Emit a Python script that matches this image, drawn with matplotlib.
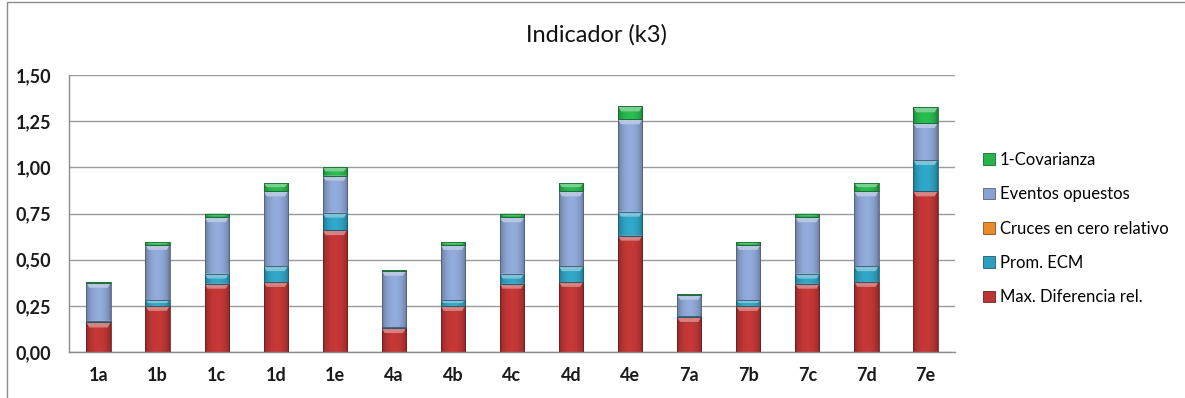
import numpy as np
import matplotlib
matplotlib.use("Agg")
import matplotlib.pyplot as plt
from matplotlib.patches import Rectangle, Polygon, Patch
from matplotlib.colors import to_rgb

plt.rcParams['font.family'] = ['Lato', 'DejaVu Sans']

categories = ["1a", "1b", "1c", "1d", "1e", "4a", "4b", "4c", "4d", "4e",
              "7a", "7b", "7c", "7d", "7e"]

max_dif_rel = [0.16, 0.25, 0.37, 0.38, 0.66, 0.13, 0.25, 0.37, 0.38, 0.63,
               0.19, 0.25, 0.37, 0.38, 0.87]
prom_ecm = [0.01, 0.03, 0.055, 0.085, 0.095, 0.005, 0.03, 0.055, 0.085, 0.13,
            0.005, 0.03, 0.055, 0.085, 0.17]
cruces_cero = [0.0] * 15
eventos_opuestos = [0.205, 0.30, 0.305, 0.405, 0.20, 0.305, 0.30, 0.305, 0.405, 0.50,
                    0.115, 0.30, 0.305, 0.405, 0.20]
covarianza = [0.005, 0.015, 0.02, 0.045, 0.045, 0.003, 0.015, 0.02, 0.045, 0.07,
              0.003, 0.015, 0.02, 0.045, 0.085]

series = [
    ("Max. Diferencia rel.", max_dif_rel, "#BB3534"),
    ("Prom. ECM", prom_ecm, "#2E9FBF"),
    ("Cruces en cero relativo", cruces_cero, "#E98A2C"),
    ("Eventos opuestos", eventos_opuestos, "#8AA2CF"),
    ("1-Covarianza", covarianza, "#27B24C"),
]

yticks = [0.0, 0.25, 0.5, 0.75, 1.0, 1.25, 1.5]
ytick_labels = ["0,00", "0,25", "0,50", "0,75", "1,00", "1,25", "1,50"]

W, H = 1185, 398
fig = plt.figure(figsize=(W / 100, H / 100), dpi=100)
fig.patch.set_facecolor("white")

# chart frame
fig.add_artist(Rectangle((7 / W, -0.01), 1.2, (H - 2) / H + 0.01, transform=fig.transFigure,
                         fill=False, edgecolor="#8C8C8C", linewidth=1.0))

ax = fig.add_axes([69 / W, 1 - 352 / H, (955 - 69) / W, (352 - 75) / H])
ax.set_xlim(-0.5, len(categories) - 0.5)
ax.set_ylim(0, 1.5)

ax.set_yticks(yticks)
ax.set_yticklabels(ytick_labels, fontsize=13, fontweight="bold", color="#1A1A1A")
ax.set_xticks(range(len(categories)))
ax.set_xticklabels(categories, fontsize=13, fontweight="bold", color="#1A1A1A")
ax.tick_params(length=0, pad=11)
ax.tick_params(axis="y", pad=13)

ax.grid(axis="y", color="#9A9A9A", linewidth=1.0)
ax.set_axisbelow(True)
for side in ("top", "right"):
    ax.spines[side].set_visible(False)
for side in ("left", "bottom"):
    ax.spines[side].set_color("#8C8C8C")
    ax.spines[side].set_linewidth(1.0)

bar_w = 0.41
x = np.arange(len(categories))
bottom = np.zeros(len(categories))

# horizontal shading profile: dark edges, brighter middle
u = np.linspace(-1, 1, 64)
profile = 0.68 + 0.38 * (1 - u ** 2) ** 0.6


def shaded(color):
    rgb = np.array(to_rgb(color))
    img = np.clip(rgb[None, :] * profile[:, None], 0, 1)
    return img[None, :, :]


top_px = 5.0 / 184.7  # height of the bevel highlight in data units
handles = []
for name, vals, color in series:
    vals = np.asarray(vals, dtype=float)
    img = shaded(color)
    light = np.clip(np.array(to_rgb(color)) * 0.55 + 0.45, 0, 1)
    edge = np.array(to_rgb(color)) * 0.6
    for xi, b, v in zip(x, bottom, vals):
        if v <= 0:
            continue
        x0, x1 = xi - bar_w / 2, xi + bar_w / 2
        rect = Rectangle((x0, b), bar_w, v, facecolor="none",
                         edgecolor=edge, linewidth=0.6, zorder=3)
        ax.add_patch(rect)
        im = ax.imshow(img, extent=(x0, x1, b, b + v), aspect="auto",
                       interpolation="bilinear", zorder=2)
        im.set_clip_path(rect)
        h = min(top_px, v * 0.5)
        inset = bar_w * 0.12
        ax.add_patch(Polygon([(x0, b + v), (x1, b + v), (x1 - inset, b + v - h),
                              (x0 + inset, b + v - h)], closed=True,
                             facecolor=light, edgecolor="none", alpha=0.85, zorder=2.5))
    bottom += vals
    handles.append(Patch(facecolor=color, edgecolor=edge, linewidth=0.6, label=name))

ax.set_xlim(-0.5, len(categories) - 0.5)
ax.set_ylim(0, 1.5)

leg = fig.legend(handles=handles[::-1], loc="upper left",
                 bbox_to_anchor=(968 / W, 1 - 137 / H), frameon=False,
                 fontsize=12, handlelength=0.7, handleheight=0.7,
                 handletextpad=0.3, labelspacing=1.1)

fig.text(596 / W, 1 - 35 / H, "Indicador (k3)", ha="center", va="center",
         fontsize=17, color="#111111")

fig.savefig("out.png", dpi=100, facecolor="white")
